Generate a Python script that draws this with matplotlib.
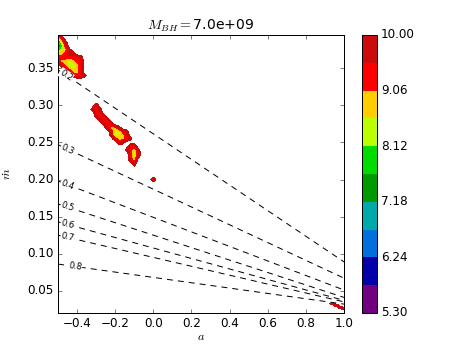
import numpy as np
import matplotlib
matplotlib.use("Agg")
import matplotlib.pyplot as plt

plt.style.use("classic")
plt.rcParams["mathtext.fontset"] = "cm"
plt.rcParams["font.family"] = ["DejaVu Sans"]

# ---------------- data ----------------
mass_bh = 7.0e9
levels = np.linspace(5.30, 10.00, 11)

# coarse map of the filled field (value codes)
grid_a = np.round(np.arange(-0.50, 0.0401, 0.02), 3)      # 28 columns
grid_mdot = np.round(0.395 - 0.005 * np.arange(42), 4)     # 42 rows (top -> bottom)
grid_rows = [
    "7...........................",
    "58..........................",
    "469.........................",
    "358.........................",
    "4679........................",
    "67899.......................",
    "8888889.....................",
    "8776788.....................",
    ".876678.....................",
    "..87678.....................",
    "...9778.....................",
    "....9889....................",
    "............................",
    "............................",
    "............................",
    "............................",
    "............................",
    "............................",
    "............................",
    "..........8.................",
    ".........989................",
    "..........88................",
    "..........988...............",
    "...........988..............",
    "............988.............",
    ".............8779...........",
    "..............86689.........",
    "..............95678.........",
    "...............87789........",
    "................89..........",
    "...................88.......",
    "..................9869......",
    "...................868......",
    "...................869......",
    "...................97.......",
    "....................9.......",
    "............................",
    "............................",
    "............................",
    ".........................8..",
    "............................",
    "............................",
]

corner_a = [0.92, 0.93, 0.94, 0.95, 0.96, 0.97, 0.98, 0.99, 1.00]
corner_mdot = [0.035, 0.0325, 0.030, 0.0275, 0.025, 0.0225]
corner_rows = [
    ".........",
    ".999.....",
    "...999...",
    ".....999.",
    ".......99",
    ".........",
]

# dashed reference lines: label, mdot at a=-0.5 and mdot at a=1.0
line_labels = ["0.2", "0.3", "0.4", "0.5", "0.6", "0.7", "0.8"]
line_left = [0.348, 0.247, 0.198, 0.167, 0.143, 0.125, 0.086]
line_right = [0.089, 0.067, 0.051, 0.041, 0.037, 0.035, 0.032]
label_a = [-0.458, -0.45, -0.45, -0.45, -0.45, -0.45, -0.41]

OUTSIDE = 10.4


def decode(rows):
    out = []
    for r in rows:
        out.append([OUTSIDE if c == "." else levels[0] + 0.47 * (int(c) + 0.5) for c in r])
    return np.array(out)


# ---------------- figure ----------------
fig = plt.figure(figsize=(463 / 72, 348 / 72), dpi=72, facecolor="white")
ax = fig.add_axes([58 / 463, 1 - 313 / 348, 286 / 463, 278 / 348])
cax = fig.add_axes([362 / 463, 1 - 313 / 348, 15 / 463, 278 / 348])

cmap = plt.get_cmap("nipy_spectral")
cs = ax.contourf(grid_a, grid_mdot, decode(grid_rows), levels=levels, cmap=cmap)
ax.contourf(corner_a, corner_mdot, decode(corner_rows), levels=levels, cmap=cmap)

for lab, l0, l1, la in zip(line_labels, line_left, line_right, label_a):
    ax.plot([-0.5, 1.0], [l0, l1], color="k", ls="--", lw=1.0, dashes=(6, 5))
    lm = l0 + (l1 - l0) * (la + 0.5) / 1.5
    ang = np.degrees(np.arctan2(l1 - l0, 1.5))
    ax.text(la, lm, lab, fontsize=8.5, ha="center", va="center",
            rotation=ang, transform_rotates_text=True, rotation_mode="anchor",
            bbox=dict(facecolor="white", edgecolor="none", pad=0.5))

ax.set_xlim(-0.5, 1.0)
ax.set_ylim(0.02, 0.395)
ax.set_xticks([-0.4, -0.2, 0.0, 0.2, 0.4, 0.6, 0.8, 1.0])
ax.set_yticks([0.05, 0.10, 0.15, 0.20, 0.25, 0.30, 0.35])
ax.tick_params(direction="in", length=4, labelsize=12, top=True, right=True)
ax.minorticks_off()
ax.set_xlabel(r"$a$", fontsize=12, labelpad=0)
ax.set_ylabel(r"$\dot{m}$", fontsize=12, labelpad=14)
ax.set_title(r"$M_{BH}=$" + "%.1e" % mass_bh, fontsize=14)

cb = fig.colorbar(cs, cax=cax, ticks=levels[::2], format="%.2f")
cb.ax.tick_params(length=0, labelsize=12)

fig.savefig("out.png", dpi=72, facecolor="white")
